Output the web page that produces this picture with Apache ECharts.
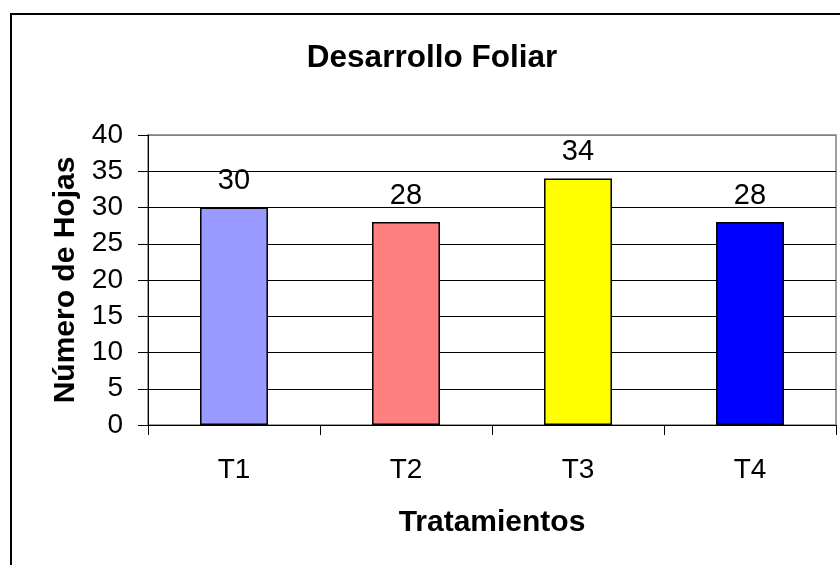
<!DOCTYPE html>
<html>
<head>
<meta charset="utf-8">
<script src="https://cdn.jsdelivr.net/npm/echarts@6/dist/echarts.min.js"></script>
<style>html,body{margin:0;padding:0;background:#fff}#c{width:840px;height:565px}</style>
</head>
<body>
<div id="c"></div>
<script>
const categories = ['T1', 'T2', 'T3', 'T4'];
const values = [30, 28, 34, 28];
const barColors = ['#9999FF', '#FF8080', '#FFFF00', '#0000FF'];
const titleText = 'Desarrollo Foliar';
const xName = 'Tratamientos';
const yName = 'Número de Hojas';

const FONT = '"Liberation Sans", Arial, sans-serif';
const chart = echarts.init(document.getElementById('c'), null, {renderer: 'canvas'});
chart.setOption({
  animation: false,
  backgroundColor: '#fff',
  title: {
    text: titleText, left: 432, top: 42, padding: 0, textAlign: 'center',
    textStyle: {fontFamily: FONT, fontSize: 31.5, fontWeight: 'bold', color: '#000'}
  },
  graphic: [{
    type: 'rect', silent: true, z: 100,
    shape: {x: 11, y: 14, width: 900, height: 700},
    style: {fill: 'none', stroke: '#000', lineWidth: 2}
  }],
  grid: {left: 148, right: 4, top: 135, bottom: 140, show: true, borderColor: '#808080', borderWidth: 1.5, backgroundColor: '#fff'},
  xAxis: {
    type: 'category', data: categories,
    name: xName, nameLocation: 'middle', nameGap: 83,
    nameTextStyle: {fontFamily: FONT, fontSize: 30, fontWeight: 'bold', color: '#000'},
    axisLine: {lineStyle: {color: '#000', width: 1}},
    axisTick: {show: true, length: 10, lineStyle: {color: '#000'}, alignWithLabel: false},
    axisLabel: {fontFamily: FONT, fontSize: 28, color: '#000', margin: 31}
  },
  yAxis: {
    type: 'value', min: 0, max: 40, interval: 5,
    name: yName, nameLocation: 'middle', nameGap: 65, nameRotate: 90,
    nameTextStyle: {fontFamily: FONT, fontSize: 30, fontWeight: 'bold', color: '#000'},
    axisLine: {show: true, lineStyle: {color: '#000', width: 1}},
    axisTick: {show: true, length: 10, lineStyle: {color: '#000'}},
    axisLabel: {fontFamily: FONT, fontSize: 28, color: '#000', margin: 25},
    splitLine: {show: true, lineStyle: {color: ['#000','#000','#000','#000','#000','#000','#000','#000','#808080'], width: 1}}
  },
  series: [{
    type: 'bar',
    data: values.map((v, i) => ({value: v, itemStyle: {color: barColors[i]}})),
    barWidth: '39.5%',
    itemStyle: {borderColor: '#000', borderWidth: 1.5},
    label: {show: true, position: 'top', distance: 12, fontFamily: FONT, fontSize: 29, color: '#000'}
  }]
});
</script>
</body>
</html>
